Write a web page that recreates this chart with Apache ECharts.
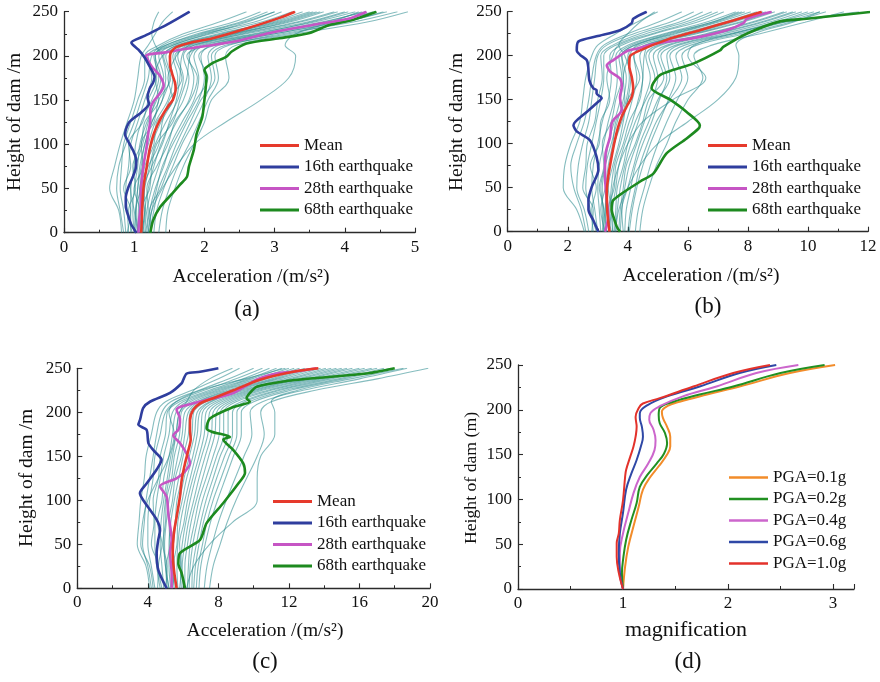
<!DOCTYPE html>
<html>
<head>
<meta charset="utf-8">
<script src="https://cdn.jsdelivr.net/npm/echarts@6/dist/echarts.min.js"></script>
<style>
html, body { margin: 0; padding: 0; background: #fff; }
#chart { width: 880px; height: 682px; }
</style>
</head>
<body>
<div id="chart"></div>
<script>
// Peak acceleration profiles along the dam height: (a)-(c) three intensity levels,
// (d) mean magnification factor for several PGA levels.

// ---------- shared height grid for the individual records ----------
const recordHeights = [0, 25, 50, 75, 100, 125, 150, 175, 200, 212, 225, 238, 250];

// ---------- panel (a) ----------
const recordsA = [
  [0.82, 0.78, 0.65, 0.72, 0.80, 0.90, 1.00, 1.05, 1.10, 1.20, 1.30, 1.40, 1.55],
  [0.88, 0.85, 0.80, 0.82, 0.85, 0.95, 1.05, 1.15, 1.15, 1.35, 1.70, 2.20, 2.60],
  [0.92, 0.90, 0.88, 0.92, 0.95, 1.05, 1.15, 1.25, 1.20, 1.45, 1.90, 2.50, 2.90],
  [0.95, 0.95, 0.95, 1.00, 1.02, 1.10, 1.25, 1.35, 1.28, 1.50, 2.00, 2.70, 3.10],
  [1.00, 0.98, 1.00, 1.05, 1.08, 1.18, 1.32, 1.42, 1.35, 1.55, 2.10, 2.80, 3.25],
  [1.02, 1.03, 1.05, 1.08, 1.15, 1.25, 1.40, 1.50, 1.42, 1.60, 2.20, 2.95, 3.40],
  [1.05, 1.06, 1.08, 1.12, 1.20, 1.30, 1.48, 1.55, 1.50, 1.65, 2.30, 3.05, 3.55],
  [1.08, 1.10, 1.12, 1.18, 1.25, 1.38, 1.55, 1.62, 1.55, 1.72, 2.40, 3.20, 3.70],
  [1.10, 1.12, 1.15, 1.22, 1.30, 1.45, 1.62, 1.70, 1.62, 1.80, 2.50, 3.30, 3.85],
  [1.12, 1.15, 1.20, 1.28, 1.38, 1.52, 1.70, 1.78, 1.70, 1.85, 2.60, 3.45, 4.00],
  [1.15, 1.18, 1.25, 1.35, 1.45, 1.60, 1.78, 1.85, 1.78, 1.90, 2.70, 3.55, 4.15],
  [1.18, 1.22, 1.30, 1.42, 1.52, 1.68, 1.85, 1.92, 1.85, 2.00, 2.80, 3.65, 4.30],
  [1.22, 1.28, 1.35, 1.48, 1.60, 1.75, 1.92, 2.00, 1.95, 2.10, 2.90, 3.80, 4.45],
  [1.28, 1.32, 1.42, 1.55, 1.68, 1.85, 2.00, 2.10, 2.05, 2.20, 3.00, 3.95, 4.60],
  [1.35, 1.40, 1.50, 1.62, 1.78, 1.92, 2.05, 2.20, 2.15, 2.35, 3.10, 4.10, 4.75],
  [1.45, 1.48, 1.58, 1.70, 1.85, 2.00, 2.10, 2.35, 2.30, 2.45, 3.30, 4.30, 4.90],
  [1.20, 1.25, 1.40, 1.60, 1.85, 2.30, 2.80, 3.20, 3.30, 3.15, 3.30, 3.80, 4.20],
  [1.00, 1.02, 1.05, 1.10, 1.15, 1.25, 1.40, 1.45, 1.40, 1.30, 1.25, 1.28, 1.35],
  [0.85, 0.80, 0.75, 0.78, 0.88, 1.00, 1.10, 1.20, 1.25, 1.40, 1.80, 2.40, 2.80],
  [0.90, 0.95, 0.85, 0.95, 0.92, 1.12, 1.20, 1.32, 1.30, 1.55, 2.05, 2.60, 3.00],
  [0.97, 0.92, 1.02, 0.98, 1.10, 1.15, 1.35, 1.30, 1.40, 1.62, 2.25, 2.90, 3.30],
  [1.04, 1.08, 1.00, 1.12, 1.10, 1.28, 1.35, 1.52, 1.45, 1.70, 2.35, 3.00, 3.50],
  [1.07, 1.02, 1.10, 1.15, 1.28, 1.32, 1.55, 1.48, 1.60, 1.75, 2.45, 3.15, 3.65],
  [1.10, 1.15, 1.08, 1.20, 1.35, 1.40, 1.50, 1.68, 1.58, 1.85, 2.55, 3.35, 3.90],
  [1.13, 1.10, 1.22, 1.25, 1.32, 1.55, 1.65, 1.75, 1.80, 1.95, 2.75, 3.50, 4.05],
  [1.16, 1.20, 1.18, 1.32, 1.48, 1.58, 1.80, 1.90, 1.75, 2.05, 2.85, 3.70, 4.25],
  [1.20, 1.25, 1.32, 1.40, 1.55, 1.72, 1.88, 2.05, 1.92, 2.15, 3.00, 3.85, 4.40],
  [1.25, 1.22, 1.38, 1.50, 1.65, 1.80, 1.95, 2.15, 2.10, 2.30, 3.20, 4.00, 4.55],
  [1.05, 1.00, 0.95, 1.02, 1.12, 1.20, 1.30, 1.38, 1.30, 1.45, 1.95, 2.55, 3.00],
  [1.12, 1.16, 1.14, 1.25, 1.40, 1.50, 1.60, 1.65, 1.68, 1.78, 2.40, 3.10, 3.60]
];
const meanA = [[1.10,0],[1.11,18],[1.12,37],[1.14,56],[1.18,75],[1.22,94],[1.28,112],[1.39,131],[1.50,145],[1.55,150],[1.59,163],[1.58,170],[1.54,180],[1.51,190],[1.51,200],[1.53,205],[1.60,210],[1.80,215],[2.12,220],[2.60,231],[3.07,243],[3.29,250]];
const eq16A = [[1.03,0],[0.96,9],[0.92,18],[0.88,30],[0.88,40],[0.92,52],[0.98,63],[1.02,72],[1.03,82],[0.99,92],[0.93,101],[0.87,111],[0.92,124],[1.00,130],[1.10,136],[1.21,146],[1.19,153],[1.22,163],[1.27,170],[1.29,176],[1.22,188],[1.15,198],[1.06,207],[0.96,215],[1.13,222],[1.46,235],[1.79,250]];
const eq28A = [[1.06,0],[1.07,15],[1.09,29],[1.10,52],[1.13,75],[1.17,94],[1.20,112],[1.23,128],[1.23,139],[1.27,148],[1.37,158],[1.42,166],[1.37,177],[1.25,188],[1.17,200],[1.45,204],[1.74,208],[2.41,216],[2.93,226],[3.54,235],[4.05,242],[4.31,250]];
const eq68A = [[1.23,0],[1.27,14],[1.37,29],[1.55,45],[1.65,54],[1.75,63],[1.78,75],[1.85,94],[1.89,112],[1.97,131],[2.00,150],[2.02,165],[2.03,177],[2.00,184],[2.12,192],[2.31,199],[2.39,205],[2.60,214],[3.07,220],[3.50,226],[3.78,235],[4.12,241],[4.45,250]];

// ---------- panel (b) ----------
const recordsB = [
  [2.55, 2.30, 1.85, 1.90, 2.10, 2.40, 2.50, 2.60, 2.80, 3.00, 3.60, 4.30, 5.00],
  [2.70, 2.55, 2.30, 2.35, 2.50, 2.70, 2.80, 2.90, 3.00, 3.30, 4.20, 5.40, 6.20],
  [2.85, 2.75, 2.60, 2.65, 2.80, 2.95, 3.10, 3.20, 3.20, 3.60, 4.60, 5.90, 6.80],
  [3.00, 2.90, 2.80, 2.85, 3.00, 3.15, 3.35, 3.45, 3.40, 3.80, 4.90, 6.30, 7.20],
  [3.10, 3.05, 3.00, 3.05, 3.20, 3.35, 3.55, 3.65, 3.60, 4.00, 5.20, 6.60, 7.60],
  [3.20, 3.15, 3.15, 3.25, 3.35, 3.55, 3.75, 3.85, 3.80, 4.20, 5.50, 6.90, 7.90],
  [3.30, 3.25, 3.30, 3.40, 3.55, 3.75, 3.95, 4.05, 4.00, 4.40, 5.80, 7.20, 8.30],
  [3.40, 3.40, 3.45, 3.55, 3.75, 3.95, 4.15, 4.30, 4.20, 4.60, 6.10, 7.50, 8.60],
  [3.50, 3.50, 3.60, 3.70, 3.90, 4.15, 4.35, 4.50, 4.40, 4.80, 6.30, 7.80, 8.90],
  [3.60, 3.65, 3.75, 3.90, 4.10, 4.35, 4.55, 4.75, 4.60, 5.00, 6.60, 8.10, 9.20],
  [3.75, 3.80, 3.90, 4.05, 4.30, 4.55, 4.80, 5.00, 4.85, 5.30, 6.90, 8.40, 9.50],
  [3.90, 3.95, 4.10, 4.25, 4.50, 4.80, 5.05, 5.30, 5.10, 5.60, 7.20, 8.70, 9.80],
  [4.05, 4.15, 4.30, 4.50, 4.75, 5.05, 5.35, 5.60, 5.40, 5.90, 7.50, 9.00, 10.20],
  [4.25, 4.35, 4.55, 4.75, 5.00, 5.30, 5.65, 6.00, 5.80, 6.30, 7.90, 9.40, 10.60],
  [4.40, 4.50, 4.70, 4.95, 5.30, 5.60, 6.00, 6.50, 6.20, 6.80, 8.40, 9.90, 11.20],
  [3.60, 3.70, 4.00, 4.40, 5.00, 6.00, 7.00, 7.60, 7.70, 7.60, 8.20, 9.50, 10.40],
  [3.20, 3.25, 3.30, 3.40, 3.55, 3.80, 4.00, 4.10, 3.90, 3.70, 4.00, 4.40, 4.90],
  [3.50, 3.45, 3.50, 3.70, 4.00, 4.50, 5.50, 6.60, 6.00, 6.20, 7.50, 9.20, 11.70],
  [2.60, 2.45, 2.20, 2.10, 2.30, 2.55, 2.70, 2.80, 2.95, 3.20, 4.00, 5.00, 5.80],
  [2.80, 2.85, 2.50, 2.60, 2.65, 2.90, 3.00, 3.15, 3.10, 3.50, 4.40, 5.70, 6.50],
  [2.95, 2.80, 2.95, 2.75, 3.05, 3.10, 3.40, 3.30, 3.50, 3.70, 4.80, 6.10, 7.00],
  [3.15, 3.20, 3.05, 3.20, 3.15, 3.45, 3.60, 3.80, 3.70, 4.10, 5.30, 6.80, 7.80],
  [3.25, 3.10, 3.25, 3.35, 3.50, 3.60, 3.90, 3.85, 4.05, 4.30, 5.60, 7.00, 8.10],
  [3.35, 3.45, 3.35, 3.50, 3.70, 3.85, 4.00, 4.40, 4.20, 4.55, 6.00, 7.40, 8.50],
  [3.45, 3.35, 3.55, 3.60, 3.85, 4.05, 4.40, 4.50, 4.55, 4.70, 6.20, 7.70, 8.80],
  [3.55, 3.60, 3.65, 3.85, 4.00, 4.25, 4.60, 4.90, 4.70, 5.10, 6.70, 8.20, 9.30],
  [3.70, 3.75, 3.85, 3.95, 4.25, 4.50, 4.70, 5.20, 5.00, 5.40, 7.00, 8.50, 9.60],
  [3.85, 3.80, 4.00, 4.20, 4.40, 4.70, 5.00, 5.40, 5.30, 5.70, 7.40, 8.90, 10.00],
  [4.00, 4.10, 4.25, 4.40, 4.65, 4.95, 5.40, 5.80, 5.60, 6.10, 7.70, 9.20, 10.40],
  [3.30, 3.20, 3.10, 3.25, 3.45, 3.65, 3.85, 3.95, 3.80, 4.25, 5.40, 6.80, 7.70]
];
const meanB = [[3.39,0],[3.32,21],[3.30,44],[3.35,63],[3.46,85],[3.57,104],[3.68,119],[3.80,131],[3.96,142],[4.13,153],[4.18,163],[4.13,176],[4.05,188],[4.07,199],[4.41,206],[5.29,218],[6.40,229],[7.51,240],[8.46,250]];
const eq16B = [[3.02,0],[2.85,13],[2.69,25],[2.69,36],[2.80,51],[3.02,70],[2.96,85],[2.74,104],[2.30,114],[2.19,121],[2.63,136],[2.96,146],[3.13,152],[2.96,157],[2.96,161],[2.85,163],[2.72,172],[2.68,188],[2.63,195],[2.41,201],[2.30,206],[2.35,216],[2.96,222],[3.74,229],[4.13,237],[4.18,242],[4.63,250]];
const eq28B = [[3.24,0],[3.35,17],[3.30,36],[3.24,63],[3.26,89],[3.41,108],[3.46,123],[3.52,127],[3.80,138],[3.74,153],[3.80,165],[3.74,174],[3.41,182],[3.30,189],[3.52,195],[3.96,205],[4.30,208],[4.96,214],[6.18,220],[7.29,229],[7.85,237],[7.96,242],[8.79,250]];
const eq68B = [[3.74,0],[3.63,6],[3.52,17],[3.46,25],[3.52,36],[4.41,57],[4.85,66],[5.29,89],[5.96,106],[6.35,117],[6.40,121],[5.96,136],[5.41,150],[4.79,163],[4.85,169],[5.07,178],[5.52,184],[6.18,191],[7.07,206],[7.18,210],[7.96,225],[9.07,239],[9.96,242],[12.17,250]];

// ---------- panel (c) ----------
const recordsC = [
  [4.10, 3.90, 3.40, 3.50, 3.60, 3.80, 3.90, 4.20, 4.50, 5.00, 6.50, 8.00, 9.20],
  [4.40, 4.20, 4.00, 4.00, 4.10, 4.30, 4.40, 4.70, 5.00, 5.60, 7.20, 9.00, 10.50],
  [4.70, 4.50, 4.40, 4.40, 4.50, 4.70, 4.90, 5.20, 5.40, 6.00, 7.70, 9.70, 11.30],
  [4.90, 4.80, 4.70, 4.75, 4.90, 5.10, 5.30, 5.60, 5.80, 6.40, 8.10, 10.20, 12.00],
  [5.10, 5.00, 4.95, 5.05, 5.20, 5.45, 5.70, 5.95, 6.10, 6.80, 8.50, 10.70, 12.60],
  [5.30, 5.20, 5.20, 5.30, 5.50, 5.75, 6.00, 6.30, 6.40, 7.10, 8.90, 11.20, 13.20],
  [5.50, 5.40, 5.45, 5.60, 5.80, 6.05, 6.35, 6.65, 6.80, 7.50, 9.30, 11.70, 13.80],
  [5.70, 5.65, 5.70, 5.85, 6.10, 6.40, 6.70, 7.00, 7.10, 7.80, 9.70, 12.20, 14.40],
  [5.90, 5.85, 5.95, 6.15, 6.40, 6.70, 7.05, 7.40, 7.50, 8.20, 10.10, 12.70, 15.00],
  [6.10, 6.10, 6.25, 6.45, 6.75, 7.10, 7.45, 7.80, 7.90, 8.60, 10.50, 13.20, 15.60],
  [6.35, 6.40, 6.55, 6.80, 7.10, 7.50, 7.90, 8.30, 8.30, 9.00, 11.00, 13.80, 16.30],
  [6.60, 6.70, 6.90, 7.15, 7.50, 7.90, 8.35, 8.80, 8.80, 9.50, 11.50, 14.40, 17.00],
  [6.90, 7.00, 7.25, 7.55, 7.95, 8.40, 8.85, 9.30, 9.30, 10.00, 12.10, 15.10, 17.80],
  [7.20, 7.35, 7.65, 8.00, 8.45, 8.95, 9.45, 9.90, 9.80, 10.50, 12.80, 16.00, 18.70],
  [7.50, 7.70, 8.10, 8.50, 9.00, 9.60, 10.20, 10.60, 10.40, 11.00, 13.50, 17.00, 19.90],
  [6.20, 6.60, 7.50, 8.80, 10.20, 10.20, 10.40, 11.20, 11.20, 11.00, 12.50, 15.50, 18.50],
  [5.20, 5.00, 4.90, 4.90, 5.00, 5.20, 5.40, 5.60, 5.80, 6.20, 6.60, 7.50, 8.80],
  [4.30, 4.10, 3.60, 3.70, 4.00, 4.60, 5.20, 5.50, 5.20, 5.60, 7.00, 9.50, 11.80],
  [4.20, 4.00, 3.70, 3.80, 3.90, 4.10, 4.30, 4.50, 4.80, 5.30, 6.90, 8.60, 10.00],
  [4.55, 4.60, 4.20, 4.35, 4.30, 4.60, 4.70, 5.00, 5.10, 5.80, 7.50, 9.40, 10.90],
  [4.80, 4.60, 4.80, 4.55, 4.80, 4.90, 5.20, 5.40, 5.60, 6.20, 7.90, 9.90, 11.60],
  [5.00, 5.10, 4.85, 5.00, 5.05, 5.35, 5.50, 5.80, 5.90, 6.60, 8.30, 10.50, 12.30],
  [5.20, 5.05, 5.25, 5.20, 5.40, 5.55, 5.90, 6.10, 6.30, 6.90, 8.70, 11.00, 12.90],
  [5.40, 5.50, 5.35, 5.55, 5.65, 5.95, 6.20, 6.50, 6.60, 7.30, 9.10, 11.40, 13.50],
  [5.60, 5.45, 5.65, 5.70, 5.95, 6.20, 6.55, 6.80, 6.95, 7.60, 9.50, 12.00, 14.10],
  [5.80, 5.90, 5.80, 6.05, 6.25, 6.55, 6.90, 7.20, 7.30, 8.00, 9.90, 12.50, 14.70],
  [6.00, 5.95, 6.10, 6.30, 6.60, 6.90, 7.25, 7.60, 7.70, 8.40, 10.30, 13.00, 15.30],
  [6.25, 6.30, 6.40, 6.65, 6.90, 7.30, 7.70, 8.05, 8.10, 8.80, 10.80, 13.50, 16.00],
  [6.50, 6.55, 6.75, 7.00, 7.30, 7.70, 8.10, 8.55, 8.55, 9.30, 11.30, 14.10, 16.70],
  [6.75, 6.85, 7.10, 7.35, 7.70, 8.15, 8.60, 9.05, 9.05, 9.75, 11.80, 14.80, 17.40]
];
const meanC = [[5.63,0],[5.48,21],[5.41,40],[5.48,63],[5.63,81],[5.82,104],[5.92,123],[6.11,142],[6.30,157],[6.43,169],[6.39,180],[6.39,191],[6.58,203],[6.96,210],[7.71,216],[8.85,225],[10.36,237],[12.25,246],[13.67,250]];
const eq16C = [[5.07,0],[4.59,21],[4.50,40],[4.59,55],[4.69,66],[4.50,78],[3.74,100],[3.55,108],[3.93,119],[4.50,135],[4.78,146],[4.31,157],[4.03,165],[3.93,180],[3.46,186],[3.55,191],[3.74,205],[4.12,212],[5.26,222],[5.92,233],[6.01,237],[6.20,244],[6.96,246],[8.00,250]];
const eq28C = [[5.35,0],[5.35,17],[5.26,40],[5.35,55],[5.16,85],[5.07,104],[4.69,116],[5.63,125],[6.11,133],[6.39,142],[6.20,153],[5.82,165],[5.44,174],[5.73,180],[5.82,188],[5.82,193],[5.63,203],[5.82,206],[7.33,214],[8.85,222],[10.17,237],[11.30,244],[12.25,246],[13.57,250]];
const eq68C = [[6.11,0],[5.92,17],[5.73,28],[5.82,40],[6.96,55],[7.33,74],[8.28,97],[9.13,119],[9.51,131],[9.41,142],[8.85,157],[8.28,169],[8.66,172],[7.62,178],[7.33,182],[7.52,193],[8.85,206],[9.79,212],[9.60,216],[9.79,222],[10.17,229],[11.68,235],[13.57,239],[16.40,244],[18.00,250]];

// ---------- panel (d): magnification factor ----------
const pga01 = [[1.00,0],[1.02,25],[1.05,47],[1.10,70],[1.15,92],[1.19,111],[1.26,125],[1.34,137],[1.42,150],[1.45,159],[1.45,170],[1.42,181],[1.38,191],[1.37,198],[1.42,204],[1.54,209],[1.80,217],[2.11,226],[2.59,241],[3.02,250]];
const pga02 = [[1.00,0],[0.99,18],[1.00,32],[1.03,55],[1.08,77],[1.13,96],[1.16,114],[1.23,127],[1.32,140],[1.39,151],[1.42,163],[1.40,174],[1.35,185],[1.34,194],[1.35,202],[1.48,209],[1.73,217],[2.05,226],[2.50,241],[2.92,250]];
const pga04 = [[1.00,0],[0.97,18],[0.97,40],[1.00,62],[1.05,85],[1.10,107],[1.16,125],[1.24,140],[1.30,155],[1.31,166],[1.29,178],[1.25,189],[1.26,196],[1.35,204],[1.57,215],[1.89,226],[2.27,241],[2.67,250]];
const pga06 = [[1.00,0],[0.97,18],[0.96,40],[0.97,62],[1.00,85],[1.03,111],[1.08,129],[1.13,144],[1.17,159],[1.19,170],[1.18,181],[1.16,191],[1.16,196],[1.23,205],[1.42,215],[1.73,226],[2.11,241],[2.46,250]];
const pga10 = [[1.00,0],[0.96,18],[0.94,36],[0.94,51],[0.96,62],[0.97,77],[1.00,99],[1.02,125],[1.03,133],[1.07,148],[1.10,159],[1.12,170],[1.13,181],[1.12,192],[1.15,202],[1.19,207],[1.35,213],[1.67,226],[2.05,241],[2.40,250]];

// ---------- axis ranges and labels ----------
const xRanges = [
  { max: 5, interval: 1 },
  { max: 12, interval: 2 },
  { max: 20, interval: 4 },
  { max: 3.2, interval: 1 }
];
const heightMax = 250, heightStep = 50;
const legendEq = ['Mean', '16th earthquake', '28th earthquake', '68th earthquake'];
const legendPga = ['PGA=0.1g', 'PGA=0.2g', 'PGA=0.4g', 'PGA=0.6g', 'PGA=1.0g'];

// ---------- styling ----------
const SERIF = '"Liberation Serif", "Times New Roman", serif';
const AXIS_COLOR = '#2b2b2b';
const TEXT_COLOR = '#111';
const C_MEAN = '#e63a2c', C_16 = '#2f3e9e', C_28 = '#c655c4', C_68 = '#1d8a1f', C_REC = '#22878a';
const PGA_COLORS = ['#f28c2a', '#219021', '#cc66cc', '#2f48a6', '#e3322b'];

const grids = [
  { left: 64, top: 11.7, width: 351, height: 221 },
  { left: 507.7, top: 11.7, width: 360.3, height: 220 },
  { left: 77.3, top: 368.3, width: 352.7, height: 220 },
  { left: 518, top: 365, width: 336, height: 224 }
];

function axisCommon() {
  return {
    axisLine: { show: true, onZero: false, lineStyle: { color: AXIS_COLOR, width: 1.3 } },
    axisTick: { show: true, inside: true, length: 5, lineStyle: { color: AXIS_COLOR, width: 1.1 } },
    minorTick: { show: true, splitNumber: 2, length: 3, lineStyle: { color: AXIS_COLOR, width: 1 } },
    splitLine: { show: false },
    axisLabel: { fontFamily: SERIF, fontSize: 17, color: TEXT_COLOR, margin: 6 }
  };
}

const xAxis = xRanges.map((r, i) => {
  const a = axisCommon();
  a.type = 'value'; a.gridIndex = i; a.min = 0; a.max = r.max; a.interval = r.interval;
  if (i === 3) a.axisLabel.showMaxLabel = false;
  return a;
});
const yAxis = grids.map((g, i) => {
  const a = axisCommon();
  a.type = 'value'; a.gridIndex = i; a.min = 0; a.max = heightMax; a.interval = heightStep;
  return a;
});

const series = [];
function addRecords(list, gi) {
  list.forEach((vals) => {
    series.push({
      type: 'line', name: 'record', xAxisIndex: gi, yAxisIndex: gi,
      data: recordHeights.map((h, j) => [vals[j], h]),
      symbol: 'none', smooth: 0.35, silent: true, z: 1,
      lineStyle: { color: C_REC, width: 1.1, opacity: 0.55 }
    });
  });
}
function addLine(name, data, gi, color, width, z, smooth) {
  series.push({
    type: 'line', name: name, xAxisIndex: gi, yAxisIndex: gi, data: data,
    symbol: 'none', smooth: smooth, z: z, silent: true,
    itemStyle: { color: color },
    lineStyle: { color: color, width: width }
  });
}

[[recordsA, meanA, eq16A, eq28A, eq68A],
 [recordsB, meanB, eq16B, eq28B, eq68B],
 [recordsC, meanC, eq16C, eq28C, eq68C]].forEach((p, gi) => {
  addRecords(p[0], gi);
  addLine('68th earthquake', p[4], gi, C_68, 2.6, 3, 0.25);
  addLine('28th earthquake', p[3], gi, C_28, 2.6, 4, 0.25);
  addLine('16th earthquake', p[2], gi, C_16, 2.6, 5, 0.25);
  addLine('Mean', p[1], gi, C_MEAN, 2.6, 6, 0.25);
});
[pga01, pga02, pga04, pga06, pga10].forEach((d, k) => {
  addLine(legendPga[k], d, 3, PGA_COLORS[k], 2, 3 + k, 0.4);
});

function legendAt(left, top, names, barH) {
  return {
    left: left, top: top, orient: 'vertical', data: names, selectedMode: false,
    icon: 'rect', itemWidth: 39, itemHeight: barH, itemGap: 4.5, padding: 0,
    textStyle: { fontFamily: SERIF, fontSize: 17, color: TEXT_COLOR, lineHeight: 17 }
  };
}

function label(x, y, text, size, rot) {
  return {
    type: 'text', x: x, y: y, rotation: rot || 0, silent: true,
    style: { text: text, font: size + 'px ' + SERIF, fill: TEXT_COLOR, align: 'center', verticalAlign: 'middle' }
  };
}
const ACC = 'Acceleration /(m/s\u00B2)';
const graphic = [
  label(251, 277, ACC, 19.5), label(247, 310, '(a)', 23), label(15, 122, 'Height of dam /m', 19.5, Math.PI / 2),
  label(701, 276, ACC, 19.5), label(708, 307, '(b)', 23), label(457, 122, 'Height of dam /m', 19.5, Math.PI / 2),
  label(265, 631, ACC, 19.5), label(265, 662, '(c)', 23), label(27, 478, 'Height of dam /m', 19.5, Math.PI / 2),
  label(686, 630, 'magnification', 22), label(688, 662, '(d)', 23), label(471, 478, 'Height of dam (m)', 17.7, Math.PI / 2)
];

const chart = echarts.init(document.getElementById('chart'), null, { renderer: 'canvas' });
chart.setOption({
  animation: false,
  backgroundColor: '#fff',
  grid: grids,
  xAxis: xAxis,
  yAxis: yAxis,
  legend: [
    legendAt(260, 137, legendEq, 3),
    legendAt(708, 137, legendEq, 3),
    legendAt(273, 493, legendEq, 3),
    legendAt(729, 469, legendPga, 2.4)
  ],
  graphic: graphic,
  series: series
});
</script>
</body>
</html>
